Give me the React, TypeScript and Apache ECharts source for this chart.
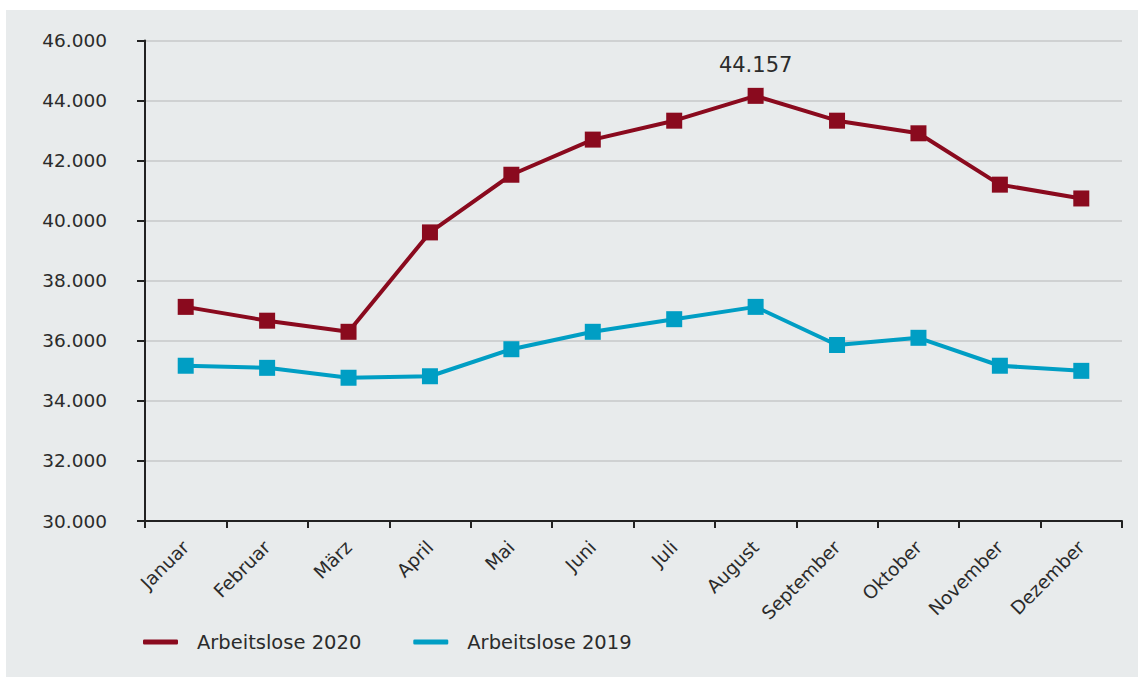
import React, { useEffect, useRef } from "react";
import * as echarts from "echarts";

const months = ["Januar", "Februar", "März", "April", "Mai", "Juni", "Juli", "August", "September", "Oktober", "November", "Dezember"];
const arbeitslose2020 = [37130, 36670, 36300, 39610, 41530, 42700, 43330, 44157, 43330, 42910, 41200, 40740];
const arbeitslose2019 = [35170, 35100, 34770, 34820, 35720, 36300, 36720, 37130, 35860, 36100, 35170, 35000];
const labelIndex2020 = 7;

const fmt = (v: number) => v.toLocaleString("de-DE");
const FONT = "'DejaVu Sans', sans-serif";
const TEXT = "#2b2b2b";

export default function App() {
  const ref = useRef<HTMLDivElement>(null);
  useEffect(() => {
    const chart = echarts.init(ref.current!, null, { renderer: "svg" });
    chart.setOption({
      animation: false,
      backgroundColor: "#e8ebec",
      textStyle: { fontFamily: FONT },
      grid: { left: 139, right: 16, top: 30.5, bottom: 156, containLabel: false },
      legend: {
        left: 132,
        top: 617,
        itemWidth: 35,
        itemHeight: 5,
        itemGap: 52,
        icon: "roundRect",
        textStyle: { fontFamily: FONT, fontSize: 19.5, color: TEXT, padding: [0, 0, 0, 14] },
        data: ["Arbeitslose 2020", "Arbeitslose 2019"],
      },
      xAxis: {
        type: "category",
        data: months,
        boundaryGap: true,
        axisLine: { lineStyle: { color: "#222", width: 2 } },
        axisTick: { show: true, length: 7, lineStyle: { color: "#222", width: 2 } },
        axisLabel: { rotate: 45, margin: 23, fontSize: 18.5, color: TEXT, fontFamily: FONT, interval: 0 },
      },
      yAxis: {
        type: "value",
        min: 30000,
        max: 46000,
        interval: 2000,
        axisLine: { show: true, lineStyle: { color: "#222", width: 2 } },
        axisTick: { show: true, length: 8, lineStyle: { color: "#222", width: 2 } },
        splitLine: { lineStyle: { color: "#cfd1d2", width: 2 } },
        axisLabel: { formatter: (v: number) => fmt(v), margin: 38, fontSize: 18.5, color: TEXT, fontFamily: FONT },
      },
      series: [
        {
          name: "Arbeitslose 2020",
          type: "line",
          data: arbeitslose2020.map((v, i) =>
            i === labelIndex2020
              ? { value: v, label: { show: true, position: "top", distance: 12, formatter: () => fmt(v), fontSize: 21, color: TEXT, fontFamily: FONT } }
              : v
          ),
          symbol: "rect",
          symbolSize: 16,
          lineStyle: { color: "#8a0a1e", width: 4 },
          itemStyle: { color: "#8a0a1e" },
          z: 3,
        },
        {
          name: "Arbeitslose 2019",
          type: "line",
          data: arbeitslose2019,
          symbol: "rect",
          symbolSize: 16,
          lineStyle: { color: "#009ec4", width: 4 },
          itemStyle: { color: "#009ec4" },
          z: 2,
        },
      ],
    });
    return () => chart.dispose();
  }, []);
  return <div ref={ref} style={{ position: "absolute", left: 6, top: 10, width: 1132, height: 667 }} />;
}
